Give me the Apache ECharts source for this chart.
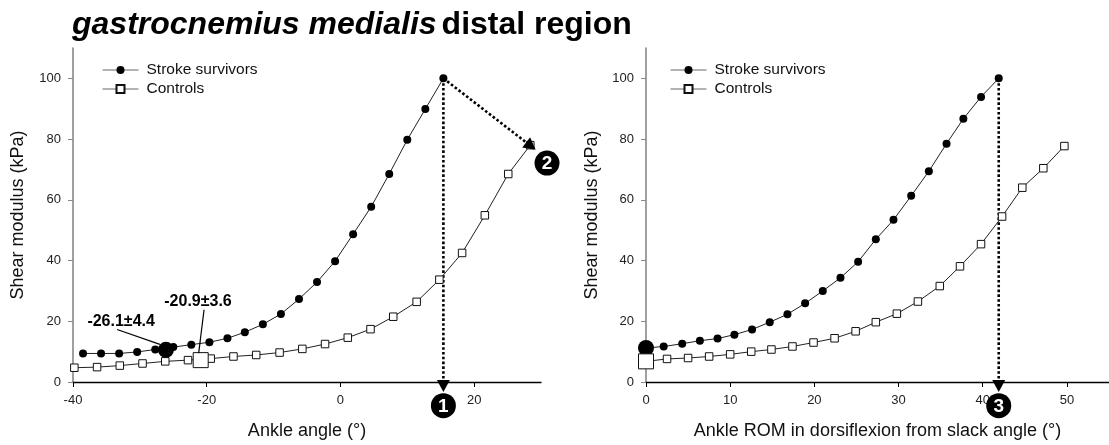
<!DOCTYPE html>
<html><head><meta charset="utf-8">
<script src="https://cdn.jsdelivr.net/npm/echarts@6/dist/echarts.min.js"></script>
<style>html,body{margin:0;padding:0;background:#fff}#c{width:1109px;height:445px}</style>
</head><body><div id="c"></div>
<script>
// ---- data ----
const strokeAngle  = [-38.5,-35.8,-33.1,-30.4,-27.7,-25.0,-22.3,-19.6,-16.9,-14.3,-11.6,-8.9,-6.2,-3.5,-0.8,1.9,4.6,7.3,10.0,12.7,15.4];
const strokeShearA = [9.4,9.4,9.4,9.9,10.7,11.5,12.3,13.1,14.4,16.4,19.0,22.4,27.3,32.9,39.8,48.7,57.7,68.5,79.8,89.9,100];
const controlAngle  = [-39.8,-36.4,-33.0,-29.6,-26.2,-22.8,-19.4,-16.0,-12.6,-9.1,-5.7,-2.3,1.1,4.5,7.9,11.4,14.8,18.2,21.6,25.1,28.4];
const controlShearA = [4.7,4.9,5.4,6.1,6.8,7.2,7.7,8.4,8.9,9.7,10.9,12.5,14.6,17.4,21.5,26.4,33.7,42.5,54.9,68.5,78.0];
const strokeROM    = [0,2.1,4.3,6.4,8.5,10.5,12.6,14.7,16.8,18.9,21.0,23.1,25.2,27.3,29.4,31.5,33.6,35.7,37.7,39.8,41.9];
const strokeShearR = [11.2,11.7,12.6,13.6,14.3,15.6,17.3,19.7,22.3,25.9,30.0,34.3,39.6,47.0,53.4,61.3,69.4,78.5,86.7,93.9,100];
const controlROM    = [0,2.5,5.0,7.5,10.0,12.5,14.9,17.4,19.9,22.4,24.9,27.3,29.8,32.3,34.9,37.3,39.8,42.3,44.7,47.2,49.7];
const controlShearR = [6.8,7.6,7.9,8.4,9.1,10.0,10.7,11.7,13.0,14.4,16.7,19.7,22.5,26.5,31.6,38.1,45.4,54.5,64.0,70.4,77.7];
const slackStrokeA  = [-26.1, 10.6];
const slackControlA = [-20.9, 7.2];
const slackStrokeR  = [0, 11.2];
const slackControlR = [0, 6.8];
const xTicksA = [-40,-20,0,20];
const xTicksR = [0,10,20,30,40,50];
const yTicks  = [0,20,40,60,80,100];
const seriesNames = ['Stroke survivors','Controls'];
const titleItalic = 'gastrocnemius medialis';
const titleRest = 'distal region';
const xNameA = 'Ankle angle (°)';
const xNameR = 'Ankle ROM in dorsiflexion from slack angle (°)';
const yName = 'Shear modulus (kPa)';
// annotations in data coordinates
const arrowsA = [{from:[15.4,100], to:[15.4,-3.3]}, {from:[15.4,100], to:[29.2,76.5]}];
const arrowsR = [{from:[41.9,100], to:[41.9,-3.3]}];
const badgesA = [{label:'1', at:[15.4,-7.8]}, {label:'2', at:[30.9,72.1]}];
const badgesR = [{label:'3', at:[41.9,-7.8]}];
const notesA = [
  {text:'-26.1±4.4', at:[-32.8,19.9], lineFrom:[-33.4,17.3], lineTo:[-27.0,12.4]},
  {text:'-20.9±3.6', at:[-21.3,26.4], lineFrom:[-20.4,23.8], lineTo:[-21.2,9.5]}
];

const FONT = '"Liberation Sans", Arial, sans-serif';
const zip = (a,b) => a.map((v,i)=>[v,b[i]]);

const chart = echarts.init(document.getElementById('c'), null, {renderer:'canvas'});

function xAxisCfg(gi, min, max, ticks, name){
  return {
    type:'value', gridIndex:gi, min:min, max:max, interval: gi===0?20:10,
    name:name, nameLocation:'middle', nameGap:40,
    nameTextStyle:{fontFamily:FONT, fontSize:18, color:'#111'},
    axisLine:{show:true, onZero:false, lineStyle:{color:'#000', width:1.3}},
    axisTick:{show:true, length:5, customValues:ticks, lineStyle:{color:'#000'}},
    axisLabel:{customValues:ticks, margin:12, fontFamily:FONT, fontSize:13, color:'#222'},
    splitLine:{show:false}
  };
}
function yAxisCfg(gi, gap){
  return {
    type:'value', gridIndex:gi, min:0, max:110, interval:20,
    name:yName, nameLocation:'middle', nameGap:gap,
    nameTextStyle:{fontFamily:FONT, fontSize:18, color:'#111'},
    axisLine:{show:true, onZero:false, lineStyle:{color:'#888', width:1.6}},
    axisTick:{show:true, length:5, customValues:yTicks, lineStyle:{color:'#888'}},
    axisLabel:{customValues:yTicks, margin:12, fontFamily:FONT, fontSize:13, color:'#222'},
    splitLine:{show:false}
  };
}
function lineSeries(name, gi, data, isStroke){
  return {
    name:name, type:'line', xAxisIndex:gi, yAxisIndex:gi, data:data,
    symbol: isStroke ? 'circle' : 'rect', symbolSize: isStroke ? 8 : 7.5,
    showAllSymbol:true, clip:false, animation:false, z:3,
    lineStyle:{color:'#222', width:1},
    itemStyle: isStroke ? {color:'#000', borderWidth:0} : {color:'#fff', borderColor:'#111', borderWidth:1}
  };
}
function bigMarker(gi, pt, isStroke){
  return {
    type:'scatter', xAxisIndex:gi, yAxisIndex:gi, data:[pt], clip:false, animation:false, z:4,
    symbol: isStroke ? 'circle' : 'rect', symbolSize: isStroke ? 16 : 15,
    itemStyle: isStroke ? {color:'#000', opacity:1} : {color:'#fff', borderColor:'#111', borderWidth:1, opacity:1}
  };
}
function legendCfg(left){
  return {
    data:seriesNames, orient:'vertical', left:left, top:57, itemWidth:36, itemHeight:10, itemGap:3,
    selectedMode:false, lineStyle:{color:'#666', width:1},
    textStyle:{fontFamily:FONT, fontSize:15.5, color:'#111', padding:[0,0,0,3]}
  };
}

chart.setOption({
  backgroundColor:'#fff',
  animation:false,
  title:{
    left:72, top:9, padding:0,
    text:'{i|'+titleItalic+'} {b|'+titleRest+'}',
    textStyle:{rich:{
      i:{fontFamily:FONT, fontSize:32, fontWeight:'bold', fontStyle:'italic', color:'#000', lineHeight:32},
      b:{fontFamily:FONT, fontSize:32, fontWeight:'bold', color:'#000', lineHeight:32}
    }}
  },
  legend:[legendCfg(97), legendCfg(665)],
  grid:[
    {left:73, right:568, top:48, bottom:59, containLabel:false},
    {left:646, right:-6, top:48, bottom:59, containLabel:false}
  ],
  xAxis:[xAxisCfg(0,-40,30,xTicksA,xNameA), xAxisCfg(1,0,55,xTicksR,xNameR)],
  yAxis:[yAxisCfg(0,46), yAxisCfg(1,45)],
  series:[
    lineSeries(seriesNames[0],0,zip(strokeAngle,strokeShearA),true),
    lineSeries(seriesNames[1],0,zip(controlAngle,controlShearA),false),
    bigMarker(0,slackStrokeA,true),
    bigMarker(0,slackControlA,false),
    lineSeries(seriesNames[0],1,zip(strokeROM,strokeShearR),true),
    lineSeries(seriesNames[1],1,zip(controlROM,controlShearR),false),
    bigMarker(1,slackStrokeR,true),
    bigMarker(1,slackControlR,false)
  ]
});

// ---- annotations positioned through the chart's own scales ----
function px(gi, p){ return chart.convertToPixel({gridIndex:gi}, p); }
const els = [];
function addArrow(gi, a){
  const f = px(gi,a.from), t = px(gi,a.to);
  const dx = t[0]-f[0], dy = t[1]-f[1], L = Math.hypot(dx,dy);
  const ux = dx/L, uy = dy/L, hl = 12, hw = 6.5;
  const bx = t[0]-ux*hl, by = t[1]-uy*hl;
  els.push({type:'polyline', z:1, shape:{points:[f,[bx,by]]},
    style:{stroke:'#000', lineWidth:2.6, lineDash:[2.6,2.2], fill:null}});
  els.push({type:'polygon', z:10, shape:{points:[t,[bx-uy*hw, by+ux*hw],[bx+uy*hw, by-ux*hw]]},
    style:{fill:'#000'}});
}
function addBadge(gi, b){
  const c = px(gi,b.at);
  els.push({type:'circle', z:10, shape:{cx:c[0], cy:c[1], r:12.5}, style:{fill:'#000'}});
  els.push({type:'text', z:11, x:c[0], y:c[1]+1, style:{text:b.label, fill:'#fff', font:'bold 19px '+FONT, align:'center', verticalAlign:'middle'}});
}
function addNote(gi, n){
  const c = px(gi,n.at), a = px(gi,n.lineFrom), b = px(gi,n.lineTo);
  els.push({type:'line', z:5, shape:{x1:a[0], y1:a[1], x2:b[0], y2:b[1]}, style:{stroke:'#000', lineWidth:1.2}});
  els.push({type:'text', z:11, x:c[0], y:c[1], style:{text:n.text, fill:'#000', font:'bold 16px '+FONT, align:'center', verticalAlign:'middle'}});
}
arrowsA.forEach(a=>addArrow(0,a));
arrowsR.forEach(a=>addArrow(1,a));
badgesA.forEach(b=>addBadge(0,b));
badgesR.forEach(b=>addBadge(1,b));
notesA.forEach(n=>addNote(0,n));
chart.setOption({graphic:{elements:els}});
</script>
</body></html>
